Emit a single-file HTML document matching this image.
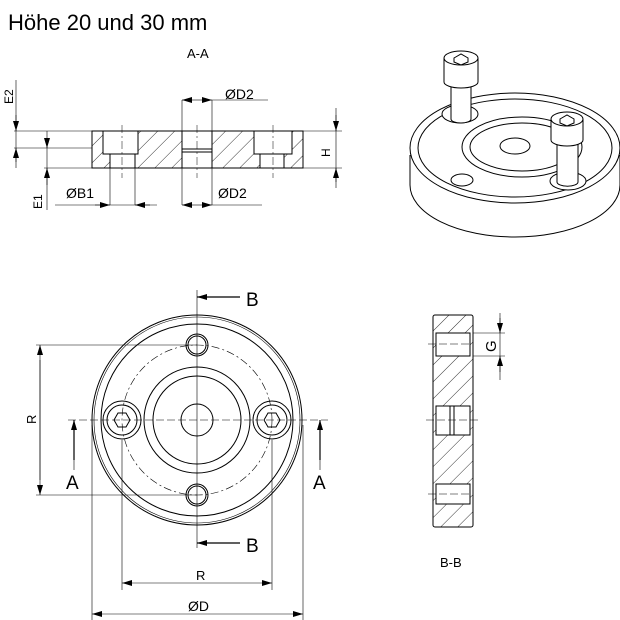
<!DOCTYPE html>
<html><head><style>
html,body{margin:0;padding:0;background:#fff;}
svg{display:block}
text{font-family:"Liberation Sans",sans-serif;fill:#000}
</style></head><body>
<svg width="620" height="620" viewBox="0 0 620 620" xmlns="http://www.w3.org/2000/svg">
<defs>
<pattern id="h" patternUnits="userSpaceOnUse" width="12" height="12" patternTransform="rotate(45)">
<line x1="0" y1="0" x2="0" y2="12" stroke="#000" stroke-width="0.8"/>
</pattern>
<marker id="a" markerWidth="10" markerHeight="6" refX="10" refY="3" orient="auto" markerUnits="userSpaceOnUse"><path d="M0,0 L10,3 L0,6z" fill="#000"/></marker>
</defs>
<text x="8" y="30" font-size="22">Höhe 20 und 30 mm</text>
<text x="187" y="58" font-size="13">A-A</text>

<!-- Section A-A -->
<g stroke="#000" fill="none" stroke-width="1">
<rect x="92" y="131" width="211" height="37" fill="url(#h)"/>
<rect x="103" y="131" width="35" height="23" fill="#fff"/>
<rect x="110" y="154" width="25" height="14" fill="#fff"/>
<rect x="182" y="131" width="30" height="37" fill="#fff"/>
<line x1="182" y1="149" x2="212" y2="149"/><line x1="182" y1="152" x2="212" y2="152"/>
<rect x="254" y="131" width="38" height="23" fill="#fff"/>
<rect x="260" y="154" width="24" height="14" fill="#fff"/>
<g stroke-width="0.6">
<line x1="14" y1="131" x2="92" y2="131"/><line x1="14" y1="148" x2="92" y2="148"/>
<line x1="44" y1="168" x2="92" y2="168"/>
<line x1="303" y1="131" x2="342" y2="131"/><line x1="303" y1="168" x2="342" y2="168"/>
<line x1="182" y1="100" x2="182" y2="131"/><line x1="212" y1="100" x2="268" y2="100"/>
<line x1="212" y1="100" x2="212" y2="131"/>
<line x1="182" y1="168" x2="182" y2="205"/><line x1="212" y1="168" x2="212" y2="205"/><line x1="212" y1="205" x2="262" y2="205"/>
<line x1="110" y1="168" x2="110" y2="205"/><line x1="135" y1="168" x2="135" y2="205"/><line x1="55" y1="205" x2="157" y2="205"/>
<line x1="16" y1="80" x2="16" y2="168"/><line x1="47" y1="131" x2="47" y2="210"/><line x1="336" y1="108" x2="336" y2="188"/>
</g>
<g stroke-width="0.6" marker-end="url(#a)">
<line x1="16" y1="115" x2="16" y2="131"/><line x1="16" y1="162" x2="16" y2="148"/>
<line x1="47" y1="140" x2="47" y2="148"/><line x1="47" y1="185" x2="47" y2="168"/>
<line x1="336" y1="115" x2="336" y2="131"/><line x1="336" y1="182" x2="336" y2="168"/>
<line x1="197" y1="100" x2="182" y2="100"/><line x1="197" y1="100" x2="212" y2="100"/>
<line x1="197" y1="205" x2="182" y2="205"/><line x1="197" y1="205" x2="212" y2="205"/>
<line x1="95" y1="205" x2="110" y2="205"/><line x1="150" y1="205" x2="135" y2="205"/>
</g>
<g stroke-width="0.5" stroke-dasharray="8,3,2,3">
<line x1="122" y1="125" x2="122" y2="178"/><line x1="197" y1="125" x2="197" y2="178"/><line x1="273" y1="125" x2="273" y2="178"/>
</g>
</g>
<text x="225" y="99" font-size="14">ØD2</text>
<text x="218" y="198" font-size="14">ØD2</text>
<text x="66" y="198" font-size="14">ØB1</text>
<text font-size="12" transform="translate(13,104) rotate(-90)">E2</text>
<text font-size="12" transform="translate(42,209) rotate(-90)">E1</text>
<text font-size="12" transform="translate(330,157) rotate(-90)">H</text>

<!-- Isometric -->
<g stroke="#000" fill="#fff" stroke-width="1">
<path d="M410,155 L410,185 A105,52 0 0 0 620,185 L620,155"/>
<ellipse cx="515" cy="148" rx="105" ry="55"/>
<ellipse cx="515" cy="148" rx="97" ry="49"/>
<ellipse cx="522" cy="147" rx="60" ry="30"/>
<ellipse cx="522" cy="147" rx="52" ry="24"/>
<ellipse cx="515" cy="146" rx="15" ry="8"/>
<ellipse cx="462" cy="180" rx="11" ry="6"/>
<ellipse cx="460" cy="114" rx="18" ry="9"/>
<ellipse cx="568" cy="181" rx="18" ry="9"/>
<!-- left bolt -->
<path d="M451,83 L451,119 A10,4 0 0 0 471,119 L471,83"/>
<path d="M444,58 L444,82 A17,6 0 0 0 478,82 L478,58"/>
<ellipse cx="461" cy="58" rx="17" ry="7"/>
<polygon points="454,58 461,54 468,58 468,62 461,65 454,62" fill="none"/>
<!-- right bolt -->
<path d="M557,140 L557,182 A10,4 0 0 0 578,182 L578,140"/>
<path d="M551,119 L551,140 A16,6 0 0 0 583,140 L583,119"/>
<ellipse cx="567" cy="119" rx="16" ry="7"/>
<polygon points="560,119 567,115 574,119 574,123 567,126 560,123" fill="none"/>
</g>

<!-- Plan view -->
<g stroke="#000" fill="none" stroke-width="1">
<circle cx="197" cy="420" r="105"/>
<circle cx="197" cy="420" r="103" stroke-width="0.6"/>
<circle cx="197" cy="420" r="96"/>
<circle cx="197" cy="420" r="53"/>
<circle cx="197" cy="420" r="44"/>
<circle cx="197" cy="420" r="16"/>
<circle cx="197" cy="420" r="75" stroke-width="0.6" stroke-dasharray="8,3,2,3"/>
<circle cx="122" cy="420" r="19"/><circle cx="122" cy="420" r="15"/>
<circle cx="272" cy="420" r="19"/><circle cx="272" cy="420" r="15"/>
<polygon points="114,420 118,413 126,413 130,420 126,427 118,427"/>
<polygon points="264,420 268,413 276,413 280,420 276,427 268,427"/>
<circle cx="197" cy="345" r="11"/><circle cx="197" cy="345" r="9"/>
<circle cx="197" cy="495" r="11"/><circle cx="197" cy="495" r="9"/>
<g stroke-width="0.6">
<line x1="197" y1="290" x2="197" y2="548"/>
<line x1="68" y1="420" x2="328" y2="420" stroke-dasharray="8,3"/>
<line x1="36" y1="345" x2="197" y2="345"/><line x1="36" y1="495" x2="197" y2="495"/>
<line x1="122" y1="440" x2="122" y2="590"/><line x1="272" y1="440" x2="272" y2="590"/>
<line x1="92" y1="425" x2="92" y2="620"/><line x1="303" y1="425" x2="303" y2="620"/>
<line x1="40" y1="360" x2="40" y2="480"/>
<line x1="74" y1="455" x2="74" y2="470"/><line x1="320" y1="455" x2="320" y2="470"/>
</g>
<g stroke-width="0.6" marker-end="url(#a)">
<line x1="40" y1="420" x2="40" y2="345"/><line x1="40" y1="420" x2="40" y2="495"/>
<line x1="197" y1="583" x2="122" y2="583"/><line x1="197" y1="583" x2="272" y2="583"/>
<line x1="197" y1="614" x2="92" y2="614"/><line x1="197" y1="614" x2="303" y2="614"/>
</g>
<g stroke-width="1.2" marker-end="url(#a)">
<line x1="240" y1="297" x2="197" y2="297"/>
<line x1="240" y1="543" x2="197" y2="543"/>
<line x1="74" y1="460" x2="74" y2="420"/>
<line x1="320" y1="460" x2="320" y2="420"/>
</g>
</g>
<text x="246" y="306" font-size="19">B</text>
<text x="246" y="552" font-size="19">B</text>
<text x="66" y="489" font-size="19">A</text>
<text x="313" y="489" font-size="19">A</text>
<text x="196" y="580" font-size="13">R</text>
<text x="188" y="611" font-size="14">ØD</text>
<text font-size="13" transform="translate(36,424) rotate(-90)">R</text>

<!-- Section B-B -->
<g stroke="#000" fill="none" stroke-width="1">
<rect x="433" y="315" width="40" height="212" rx="2" fill="url(#h)"/>
<rect x="436" y="333" width="34" height="23" fill="#fff"/>
<rect x="436" y="406" width="34" height="29" fill="#fff"/>
<line x1="450" y1="406" x2="450" y2="435"/><line x1="454" y1="406" x2="454" y2="435"/>
<rect x="436" y="484" width="34" height="20" fill="#fff"/>
<g stroke-width="0.6">
<line x1="428" y1="344" x2="470" y2="344" stroke-dasharray="8,3"/>
<line x1="426" y1="420" x2="478" y2="420" stroke-dasharray="8,3"/>
<line x1="428" y1="494" x2="470" y2="494" stroke-dasharray="8,3"/>
<line x1="473" y1="333" x2="505" y2="333"/><line x1="473" y1="356" x2="505" y2="356"/>
<line x1="500" y1="313" x2="500" y2="380"/>
</g>
<g stroke-width="0.6" marker-end="url(#a)">
<line x1="500" y1="318" x2="500" y2="333"/><line x1="500" y1="372" x2="500" y2="356"/>
</g>
</g>
<text font-size="15" transform="translate(496,352) rotate(-90)">G</text>
<text x="440" y="567" font-size="13">B-B</text>
</svg>
</body></html>
